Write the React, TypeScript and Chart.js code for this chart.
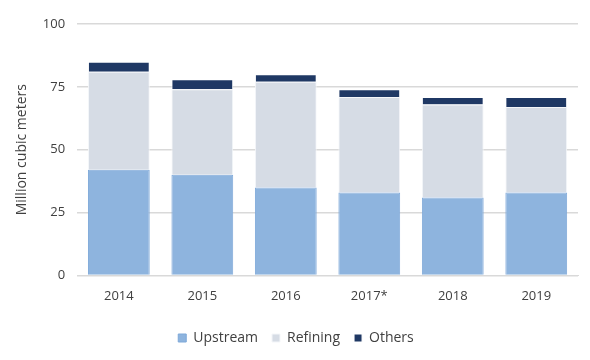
import React, { useEffect, useRef } from "react";
import { Chart, registerables } from "chart.js";

Chart.register(...registerables);

const categories = ["2014", "2015", "2016", "2017*", "2018", "2019"];
const upstream = [42, 40, 35, 33, 31, 33];
const refining = [39, 34, 42, 38, 37, 34];
const others = [4, 4, 3, 3, 3, 4];
const yTicks = [0, 25, 50, 75, 100];

const FONT = "'Open Sans', Lato, sans-serif";

export default function App() {
  const ref = useRef<HTMLCanvasElement | null>(null);
  useEffect(() => {
    document.body.style.margin = "0";
    const ctx = ref.current!;
    const chart = new Chart(ctx, {
      type: "bar",
      data: {
        labels: categories,
        datasets: [
          {
            label: "Upstream",
            data: upstream,
            backgroundColor: "#8EB4DE",
            borderColor: "#7FA9D9",
            borderWidth: 1,
          },
          {
            label: "Refining",
            data: refining,
            backgroundColor: "#D6DCE5",
            borderColor: "#F4F6F9",
            borderWidth: 1,
          },
          {
            label: "Others",
            data: others,
            backgroundColor: "#1F3864",
            borderColor: "#FFFFFF",
            borderWidth: 1,
          },
        ],
      },
      options: {
        animation: false,
        responsive: false,
        maintainAspectRatio: false,
        layout: { padding: { left: 14, right: 12, top: 24, bottom: 5 } },
        datasets: {
          bar: { barPercentage: 0.74, categoryPercentage: 1 },
        },
        plugins: {
          tooltip: { enabled: false },
          legend: {
            position: "bottom",
            labels: {
              boxWidth: 8,
              boxHeight: 8,
              color: "#404040",
              padding: 14,
              font: { family: FONT, size: 14 },
            },
          },
        },
        scales: {
          x: {
            stacked: true,
            grid: { display: false, drawTicks: false },
            border: { display: true, color: "#D9D9D9" },
            ticks: {
              color: "#404040",
              padding: 13,
              font: { family: FONT, size: 13 },
            },
          },
          y: {
            stacked: true,
            min: 0,
            max: 100,
            afterBuildTicks: (axis: any) => {
              axis.ticks = yTicks.map((v) => ({ value: v }));
            },
            grid: { color: "#D9D9D9", lineWidth: 1.5, drawTicks: false },
            border: { display: false },
            ticks: {
              color: "#404040",
              padding: 12,
              font: { family: FONT, size: 13 },
            },
            title: {
              display: true,
              text: "Million cubic meters",
              color: "#404040",
              font: { family: FONT, size: 14 },
              padding: { top: 0, bottom: 0 },
            },
          },
        },
      },
    });
    return () => chart.destroy();
  }, []);
  return (
    <div style={{ width: 590, height: 360, position: "relative" }}>
      <canvas ref={ref} width={590} height={360} style={{ width: 590, height: 360 }} />
    </div>
  );
}
